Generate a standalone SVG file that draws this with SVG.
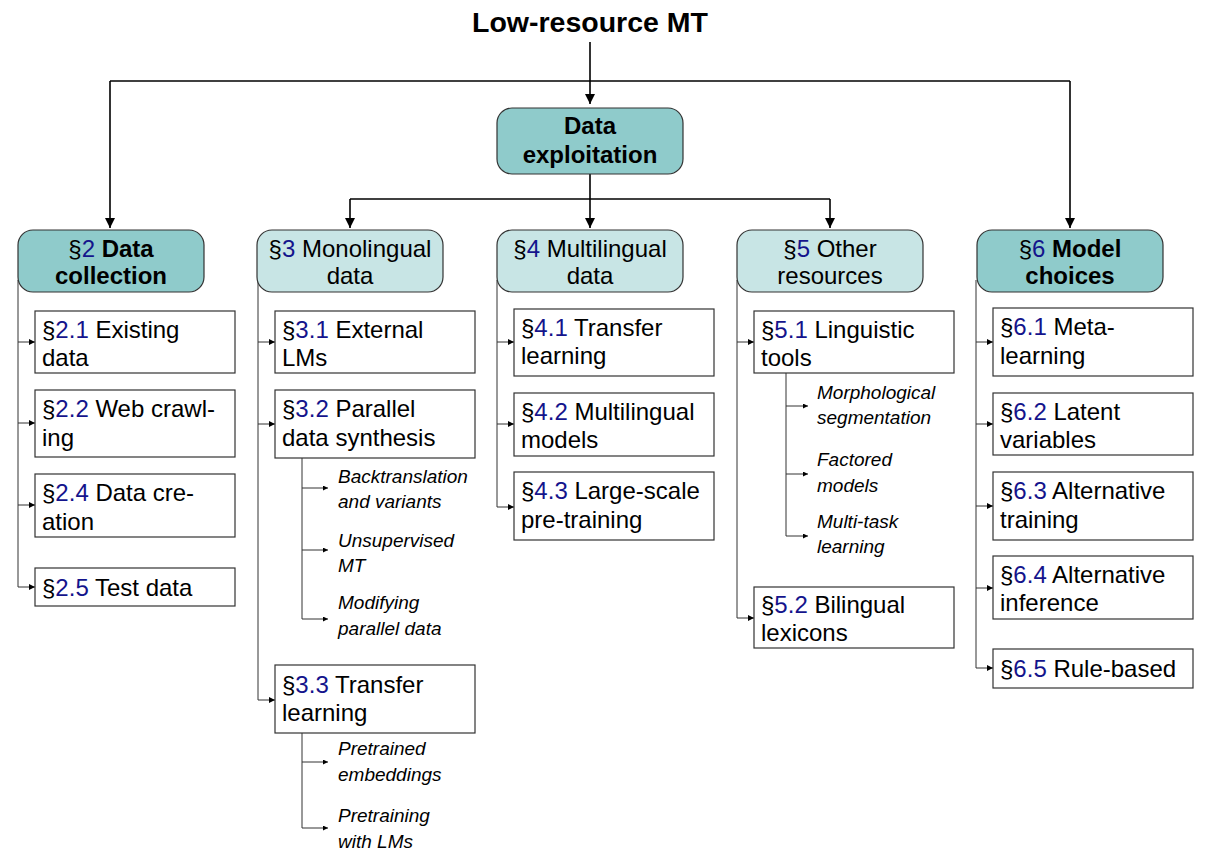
<svg xmlns="http://www.w3.org/2000/svg" width="1214" height="858" viewBox="0 0 1214 858">
<defs>
<marker id="ah" viewBox="0 0 10 10" refX="10" refY="5" markerWidth="6" markerHeight="6" orient="auto" markerUnits="userSpaceOnUse"><path d="M0,0 L10,5 L0,10 z" fill="#000"/></marker>
<marker id="ahs" viewBox="0 0 10 10" refX="10" refY="5" markerWidth="7" markerHeight="5" orient="auto" markerUnits="userSpaceOnUse"><path d="M0,0 L10,5 L0,10 z" fill="#000"/></marker>
<marker id="ahb" viewBox="0 0 10 10" refX="10" refY="5" markerWidth="10" markerHeight="10" orient="auto" markerUnits="userSpaceOnUse"><path d="M0,0 L10,5 L0,10 z" fill="#000"/></marker>
</defs>
<style>
text{font-family:"Liberation Sans",Arial,sans-serif;fill:#000}
.t{font-size:28.5px;font-weight:bold}
.h{font-size:24px;text-anchor:middle}
.b{font-weight:bold}
.l{font-size:24px}
.s{font-size:19px;font-style:italic}
.n{fill:#14148c}
.dk{fill:#8fcbcb;stroke:#333;stroke-width:1.2}
.lt{fill:#c8e5e5;stroke:#333;stroke-width:1.2}
.bx{fill:#fff;stroke:#333;stroke-width:1.2}
.c{fill:none;stroke:#000;stroke-width:1.6}
.cs{fill:none;stroke:#333;stroke-width:1}
</style>
<text class="t" x="590" y="32" text-anchor="middle">Low-resource MT</text>
<g id="connectors">
<path class="c" d="M590,42 V104" marker-end="url(#ahb)"/>
<path class="c" d="M110,81 H1070"/>
<path class="c" d="M110,81 V228" marker-end="url(#ahb)"/>
<path class="c" d="M1070,81 V228" marker-end="url(#ahb)"/>
<path class="c" d="M590,174 V228" marker-end="url(#ahb)"/>
<path class="c" d="M350,199 H830"/>
<path class="c" d="M350,199 V228" marker-end="url(#ahb)"/>
<path class="c" d="M830,199 V228" marker-end="url(#ahb)"/>
<path class="cs" d="M18,280 V587"/>
<path class="cs" d="M18,342 H35" marker-end="url(#ah)"/>
<path class="cs" d="M18,423 H35" marker-end="url(#ah)"/>
<path class="cs" d="M18,505 H35" marker-end="url(#ah)"/>
<path class="cs" d="M18,587 H35" marker-end="url(#ah)"/>
<path class="cs" d="M258,280 V700"/>
<path class="cs" d="M258,342 H275" marker-end="url(#ah)"/>
<path class="cs" d="M258,424 H275" marker-end="url(#ah)"/>
<path class="cs" d="M258,700 H275" marker-end="url(#ah)"/>
<path class="cs" d="M302,458 V619"/>
<path class="cs" d="M302,488 H328" marker-end="url(#ahs)"/>
<path class="cs" d="M302,550 H328" marker-end="url(#ahs)"/>
<path class="cs" d="M302,619 H328" marker-end="url(#ahs)"/>
<path class="cs" d="M302,733 V828"/>
<path class="cs" d="M302,762 H328" marker-end="url(#ahs)"/>
<path class="cs" d="M302,828 H328" marker-end="url(#ahs)"/>
<path class="cs" d="M497,280 V507"/>
<path class="cs" d="M497,342 H514" marker-end="url(#ah)"/>
<path class="cs" d="M497,424 H514" marker-end="url(#ah)"/>
<path class="cs" d="M497,507 H514" marker-end="url(#ah)"/>
<path class="cs" d="M737,280 V618"/>
<path class="cs" d="M737,342 H754" marker-end="url(#ah)"/>
<path class="cs" d="M737,618 H754" marker-end="url(#ah)"/>
<path class="cs" d="M786,373 V536"/>
<path class="cs" d="M786,406 H808" marker-end="url(#ahs)"/>
<path class="cs" d="M786,474 H808" marker-end="url(#ahs)"/>
<path class="cs" d="M786,536 H808" marker-end="url(#ahs)"/>
<path class="cs" d="M976,280 V668"/>
<path class="cs" d="M976,342 H993" marker-end="url(#ah)"/>
<path class="cs" d="M976,424 H993" marker-end="url(#ah)"/>
<path class="cs" d="M976,506 H993" marker-end="url(#ah)"/>
<path class="cs" d="M976,588 H993" marker-end="url(#ah)"/>
<path class="cs" d="M976,668 H993" marker-end="url(#ah)"/>
</g>
<g id="n-exploit"><rect class="dk" x="497" y="108" width="186" height="66" rx="15"/><text class="h b" x="590" y="134">Data</text><text class="h b" x="590" y="163">exploitation</text></g>
<g id="n2"><rect class="dk" x="18" y="230" width="186" height="62" rx="15"/><text class="h" x="111" y="257"><tspan>§</tspan><tspan class="n">2</tspan><tspan class="b"> Data</tspan></text><text class="h b" x="111" y="284">collection</text></g>
<g id="n3"><rect class="lt" x="257" y="230" width="186" height="62" rx="15"/><text class="h" x="350" y="257">§<tspan class="n">3</tspan> Monolingual</text><text class="h" x="350" y="284">data</text></g>
<g id="n4"><rect class="lt" x="497" y="230" width="186" height="62" rx="15"/><text class="h" x="590" y="257">§<tspan class="n">4</tspan> Multilingual</text><text class="h" x="590" y="284">data</text></g>
<g id="n5"><rect class="lt" x="737" y="230" width="186" height="62" rx="15"/><text class="h" x="830" y="257">§<tspan class="n">5</tspan> Other</text><text class="h" x="830" y="284">resources</text></g>
<g id="n6"><rect class="dk" x="977" y="230" width="186" height="62" rx="15"/><text class="h" x="1070" y="257"><tspan>§</tspan><tspan class="n">6</tspan><tspan class="b"> Model</tspan></text><text class="h b" x="1070" y="284">choices</text></g>

<g id="n21"><rect class="bx" x="35" y="311" width="200" height="62"/><text class="l" x="42" y="338">§<tspan class="n">2.1</tspan> Existing</text><text class="l" x="42" y="366">data</text></g>
<g id="n22"><rect class="bx" x="35" y="390" width="200" height="67"/><text class="l" x="42" y="417">§<tspan class="n">2.2</tspan> Web crawl-</text><text class="l" x="42" y="446">ing</text></g>
<g id="n24"><rect class="bx" x="35" y="474" width="200" height="63"/><text class="l" x="42" y="501">§<tspan class="n">2.4</tspan> Data cre-</text><text class="l" x="42" y="530">ation</text></g>
<g id="n25"><rect class="bx" x="35" y="568" width="200" height="38"/><text class="l" x="42" y="596">§<tspan class="n">2.5</tspan> Test data</text></g>

<g id="n31"><rect class="bx" x="275" y="311" width="200" height="62"/><text class="l" x="282" y="338">§<tspan class="n">3.1</tspan> External</text><text class="l" x="282" y="366">LMs</text></g>
<g id="n32"><rect class="bx" x="275" y="390" width="200" height="68"/><text class="l" x="282" y="417">§<tspan class="n">3.2</tspan> Parallel</text><text class="l" x="282" y="446">data synthesis</text></g>
<g id="n32a"><text class="s" x="338" y="483">Backtranslation</text><text class="s" x="338" y="508">and variants</text></g>
<g id="n32b"><text class="s" x="338" y="547">Unsupervised</text><text class="s" x="338" y="572">MT</text></g>
<g id="n32c"><text class="s" x="338" y="609">Modifying</text><text class="s" x="338" y="635">parallel data</text></g>
<g id="n33"><rect class="bx" x="275" y="665" width="200" height="68"/><text class="l" x="282" y="693">§<tspan class="n">3.3</tspan> Transfer</text><text class="l" x="282" y="721">learning</text></g>
<g id="n33a"><text class="s" x="338" y="755">Pretrained</text><text class="s" x="338" y="781">embeddings</text></g>
<g id="n33b"><text class="s" x="338" y="822">Pretraining</text><text class="s" x="338" y="848">with LMs</text></g>

<g id="n41"><rect class="bx" x="514" y="309" width="200" height="67"/><text class="l" x="521" y="336">§<tspan class="n">4.1</tspan> Transfer</text><text class="l" x="521" y="364">learning</text></g>
<g id="n42"><rect class="bx" x="514" y="393" width="200" height="63"/><text class="l" x="521" y="420">§<tspan class="n">4.2</tspan> Multilingual</text><text class="l" x="521" y="448">models</text></g>
<g id="n43"><rect class="bx" x="514" y="472" width="200" height="68"/><text class="l" x="521" y="499">§<tspan class="n">4.3</tspan> Large-scale</text><text class="l" x="521" y="528">pre-training</text></g>

<g id="n51"><rect class="bx" x="754" y="311" width="200" height="62"/><text class="l" x="761" y="338">§<tspan class="n">5.1</tspan> Linguistic</text><text class="l" x="761" y="366">tools</text></g>
<g id="n51a"><text class="s" x="817" y="399">Morphological</text><text class="s" x="817" y="424">segmentation</text></g>
<g id="n51b"><text class="s" x="817" y="466">Factored</text><text class="s" x="817" y="492">models</text></g>
<g id="n51c"><text class="s" x="817" y="528">Multi-task</text><text class="s" x="817" y="553">learning</text></g>
<g id="n52"><rect class="bx" x="754" y="587" width="200" height="61"/><text class="l" x="761" y="613">§<tspan class="n">5.2</tspan> Bilingual</text><text class="l" x="761" y="641">lexicons</text></g>

<g id="n61"><rect class="bx" x="993" y="308" width="200" height="68"/><text class="l" x="1000" y="335">§<tspan class="n">6.1</tspan> Meta-</text><text class="l" x="1000" y="364">learning</text></g>
<g id="n62"><rect class="bx" x="993" y="393" width="200" height="62"/><text class="l" x="1000" y="420">§<tspan class="n">6.2</tspan> Latent</text><text class="l" x="1000" y="448">variables</text></g>
<g id="n63"><rect class="bx" x="993" y="472" width="200" height="68"/><text class="l" x="1000" y="499">§<tspan class="n">6.3</tspan> Alternative</text><text class="l" x="1000" y="528">training</text></g>
<g id="n64"><rect class="bx" x="993" y="556" width="200" height="63"/><text class="l" x="1000" y="583">§<tspan class="n">6.4</tspan> Alternative</text><text class="l" x="1000" y="611">inference</text></g>
<g id="n65"><rect class="bx" x="993" y="649" width="200" height="39"/><text class="l" x="1000" y="677">§<tspan class="n">6.5</tspan> Rule-based</text></g>
</svg>
